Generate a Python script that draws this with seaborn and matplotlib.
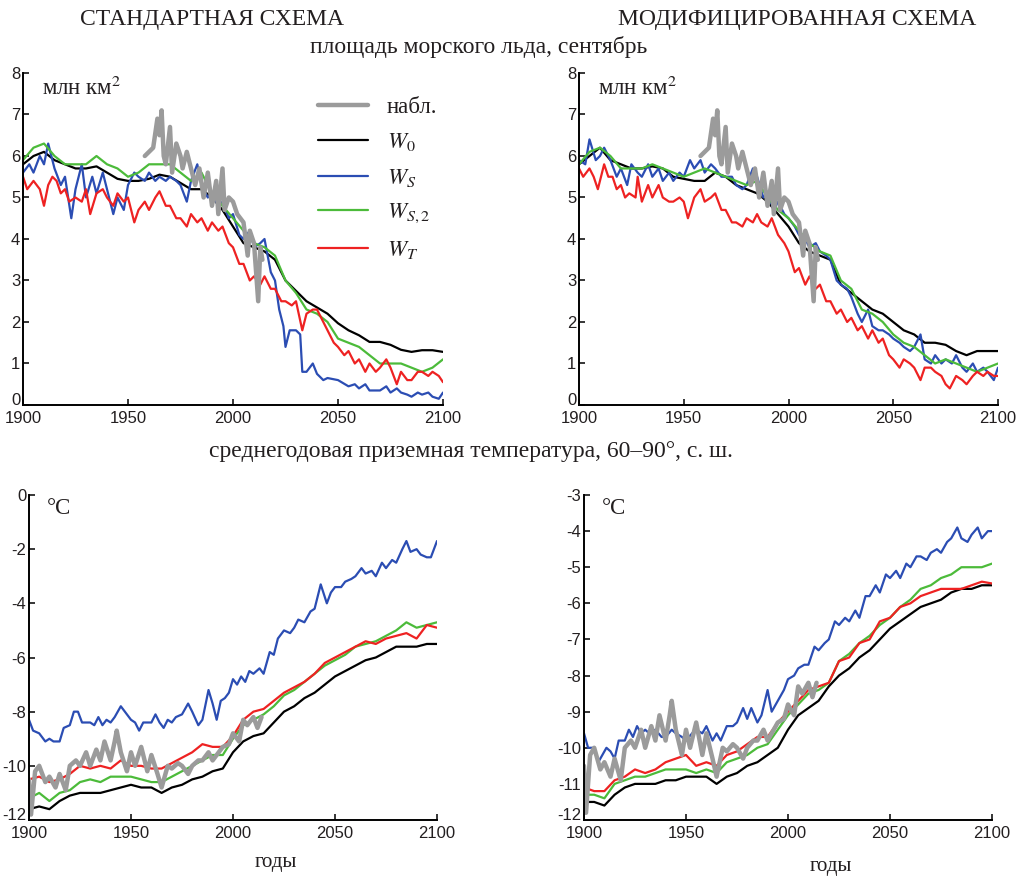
import numpy as np
import pandas as pd
import matplotlib
matplotlib.use("Agg")
import matplotlib.pyplot as plt
import matplotlib.transforms as mtransforms
import seaborn as sns

# ---------------- data ----------------
YEARS = list(range(1900, 2101, 5))

# September sea-ice area, standard scheme (mln km2)
ICE_STD_W0 = [5.8, 6.0, 6.1, 5.9, 5.8, 5.7, 5.7, 5.75, 5.6, 5.45, 5.4, 5.4, 5.45, 5.55, 5.5, 5.35, 5.2, 5.2, 5.0, 4.7,
              4.3, 3.9, 3.8, 3.7, 3.5, 3.0, 2.75, 2.5, 2.35, 2.2, 1.97, 1.8, 1.68, 1.52, 1.52, 1.45, 1.33, 1.28, 1.32, 1.32, 1.28]
ICE_STD_WS_YEARS = [1900, 1903, 1905, 1908, 1910, 1912, 1915, 1918, 1920, 1923, 1925, 1928, 1930, 1933, 1935, 1938,
                    1940, 1943, 1945, 1948, 1950, 1953, 1955, 1958, 1960, 1963, 1965, 1968, 1970, 1973, 1975, 1978,
                    1980, 1983, 1985, 1988, 1990, 1993, 1995, 1998, 2000, 2003, 2005, 2008, 2010, 2013, 2015, 2018,
                    2020, 2022, 2024, 2025, 2027, 2030, 2032, 2033, 2035, 2038, 2040, 2043, 2045, 2050, 2055, 2058,
                    2060, 2063, 2065, 2070, 2073, 2075, 2078, 2080, 2083, 2085, 2088, 2090, 2093, 2095, 2098, 2100]
ICE_STD_WS = [5.6, 5.8, 5.6, 6.0, 5.8, 6.3, 5.7, 5.3, 5.5, 4.5, 5.2, 5.8, 5.0, 5.5, 5.1, 5.6,
              5.2, 4.6, 5.0, 4.7, 5.3, 5.6, 5.5, 5.4, 5.6, 5.4, 5.5, 5.4, 5.5, 5.4, 5.3, 4.9,
              5.4, 5.8, 5.3, 5.0, 5.1, 4.8, 4.9, 4.5, 4.6, 4.1, 4.0, 4.2, 3.8, 3.9, 4.0, 3.2,
              3.0, 2.3, 1.9, 1.4, 1.8, 1.8, 1.7, 0.8, 0.8, 1.0, 0.75, 0.6, 0.65, 0.6, 0.45, 0.5,
              0.4, 0.5, 0.35, 0.35, 0.45, 0.3, 0.4, 0.3, 0.25, 0.2, 0.3, 0.25, 0.3, 0.2, 0.15, 0.3]
ICE_STD_WS2 = [5.9, 6.2, 6.3, 6.0, 5.8, 5.8, 5.8, 6.0, 5.8, 5.7, 5.5, 5.6, 5.8, 5.8, 5.8, 5.6, 5.4, 5.6, 5.1, 4.8,
               4.5, 4.2, 3.9, 3.8, 3.6, 3.0, 2.7, 2.3, 2.2, 2.0, 1.6, 1.5, 1.4, 1.2, 1.0, 1.0, 1.0, 0.9, 0.8, 0.9, 1.1]
ICE_STD_WT_YEARS = [1900, 1902, 1905, 1908, 1910, 1912, 1914, 1916, 1918, 1920, 1922, 1925, 1928, 1930, 1932, 1935,
                    1938, 1940, 1943, 1945, 1948, 1950, 1953, 1955, 1958, 1960, 1963, 1965, 1968, 1970, 1973, 1975,
                    1978, 1980, 1983, 1985, 1988, 1990, 1993, 1995, 1998, 2000, 2003, 2005, 2008, 2010, 2013, 2015,
                    2018, 2020, 2023, 2025, 2028, 2030, 2033, 2035, 2038, 2040, 2043, 2045, 2048, 2050, 2053, 2055,
                    2058, 2060, 2063, 2065, 2068, 2070, 2073, 2075, 2078, 2080, 2083, 2085, 2088, 2090, 2093, 2095,
                    2098, 2100]
ICE_STD_WT = [5.5, 5.2, 5.4, 5.2, 4.8, 5.3, 5.5, 5.4, 5.1, 5.2, 4.9, 5.0, 4.9, 5.2, 4.6, 5.1,
              5.2, 5.0, 4.8, 5.1, 4.9, 5.0, 4.4, 4.7, 4.9, 4.7, 5.0, 5.15, 4.8, 4.8, 4.5, 4.5,
              4.3, 4.6, 4.4, 4.5, 4.2, 4.4, 4.2, 4.3, 3.9, 3.8, 3.4, 3.4, 3.0, 3.1, 2.9, 3.1,
              2.8, 2.8, 2.5, 2.5, 2.4, 2.5, 1.8, 2.2, 2.3, 2.3, 2.0, 1.8, 1.5, 1.4, 1.2, 1.3,
              1.0, 1.1, 0.8, 1.0, 0.8, 0.9, 1.1, 0.9, 0.5, 0.8, 0.6, 0.6, 0.8, 0.8, 0.7, 0.8,
              0.7, 0.55]

# September sea-ice area, modified scheme
ICE_MOD_W0 = [5.8, 6.0, 6.2, 5.9, 5.8, 5.7, 5.7, 5.75, 5.7, 5.5, 5.45, 5.4, 5.4, 5.6, 5.5, 5.3, 5.2, 5.1, 4.9, 4.6,
              4.3, 3.9, 3.7, 3.6, 3.5, 2.9, 2.7, 2.5, 2.3, 2.2, 2.0, 1.8, 1.7, 1.5, 1.5, 1.45, 1.3, 1.2, 1.3, 1.3, 1.3]
ICE_MOD_WS_YEARS = [1900, 1903, 1905, 1908, 1910, 1912, 1915, 1918, 1920, 1923, 1925, 1928, 1930, 1933, 1935, 1938,
                    1940, 1943, 1945, 1948, 1950, 1953, 1955, 1958, 1960, 1963, 1965, 1968, 1970, 1973, 1975, 1978,
                    1980, 1983, 1985, 1988, 1990, 1993, 1995, 1998, 2000, 2003, 2005, 2008, 2010, 2013, 2015, 2018,
                    2020, 2023, 2025, 2028, 2030, 2033, 2035, 2038, 2040, 2043, 2045, 2048, 2050, 2053, 2055, 2058,
                    2060, 2063, 2065, 2068, 2070, 2073, 2075, 2078, 2080, 2083, 2085, 2088, 2090, 2093, 2095, 2098,
                    2100]
ICE_MOD_WS = [5.9, 5.8, 6.4, 5.9, 6.0, 6.2, 5.9, 5.5, 5.7, 5.3, 5.8, 5.6, 5.5, 5.8, 5.5, 5.7,
              5.4, 5.6, 5.4, 5.6, 5.5, 5.9, 5.7, 5.9, 5.6, 5.8, 5.7, 5.5, 5.5, 5.5, 5.3, 5.2,
              5.3, 5.7, 5.5, 5.0, 5.1, 4.7, 4.9, 4.6, 4.5, 4.3, 4.1, 4.0, 3.8, 3.9, 3.7, 3.6,
              3.5, 3.0, 2.9, 2.8, 2.6, 2.2, 2.0, 2.3, 1.9, 1.8, 1.8, 1.7, 1.6, 1.5, 1.4, 1.3,
              1.4, 1.7, 1.1, 1.0, 1.2, 1.0, 1.1, 1.0, 1.2, 0.9, 0.8, 1.0, 0.8, 0.9, 0.8, 0.6,
              0.9]
ICE_MOD_WS2 = [5.8, 6.1, 6.2, 6.0, 5.7, 5.7, 5.7, 5.8, 5.7, 5.6, 5.5, 5.6, 5.7, 5.6, 5.5, 5.4, 5.3, 5.4, 5.0, 4.7,
               4.5, 4.2, 3.9, 3.7, 3.6, 3.0, 2.8, 2.3, 2.2, 2.0, 1.7, 1.5, 1.4, 1.2, 1.0, 1.1, 1.0, 0.9, 0.8, 0.9, 1.0]
ICE_MOD_WT_YEARS = [1900, 1902, 1905, 1907, 1909, 1912, 1914, 1916, 1918, 1920, 1922, 1924, 1927, 1928, 1930, 1933,
                    1935, 1938, 1940, 1943, 1945, 1948, 1950, 1952, 1955, 1958, 1960, 1963, 1965, 1968, 1970, 1973,
                    1975, 1978, 1980, 1983, 1985, 1987, 1990, 1992, 1995, 1998, 2000, 2003, 2005, 2008, 2010, 2013,
                    2015, 2018, 2020, 2023, 2025, 2028, 2030, 2033, 2035, 2038, 2040, 2043, 2045, 2048, 2050, 2053,
                    2055, 2058, 2060, 2063, 2065, 2068, 2070, 2073, 2075, 2077, 2080, 2083, 2085, 2088, 2090, 2093,
                    2095, 2098, 2100]
ICE_MOD_WT = [5.7, 5.5, 5.7, 5.5, 5.2, 5.8, 5.5, 5.5, 5.2, 5.3, 5.0, 5.1, 5.0, 5.5, 4.9, 5.3,
              5.0, 5.3, 5.0, 4.9, 4.9, 5.0, 4.9, 4.5, 5.0, 5.2, 4.9, 5.0, 5.1, 4.7, 4.7, 4.4,
              4.4, 4.3, 4.5, 4.4, 4.6, 4.4, 4.3, 4.5, 4.1, 3.9, 3.7, 3.2, 3.3, 2.9, 3.1, 2.8,
              2.9, 2.5, 2.5, 2.2, 2.3, 2.0, 2.1, 1.8, 1.9, 1.6, 1.8, 1.5, 1.6, 1.2, 1.1, 0.9,
              1.1, 1.0, 0.9, 0.6, 0.9, 0.9, 0.8, 0.7, 0.5, 0.4, 0.7, 0.6, 0.5, 0.7, 0.8, 0.7,
              0.8, 0.7, 0.7]

# observed sea-ice area
OBS_ICE_YEARS = [1958, 1960, 1962, 1964, 1965, 1966, 1967, 1968, 1970, 1971, 1973, 1975, 1976, 1978, 1980, 1982, 1984,
                 1986, 1988, 1990, 1992, 1993, 1995, 1996, 1998, 2000, 2002, 2005, 2007, 2008, 2010, 2012, 2013, 2014]
OBS_ICE = [6.0, 6.1, 6.2, 6.9, 6.5, 7.1, 6.0, 5.8, 6.7, 5.6, 6.3, 6.0, 5.7, 6.1, 5.7, 5.3, 5.7,
           5.0, 5.6, 4.8, 5.4, 4.6, 5.7, 4.7, 5.0, 4.9, 4.6, 4.4, 3.6, 4.2, 3.9, 2.5, 3.8, 3.5]

# annual mean surface air temperature 60-90N, standard scheme (deg C)
T_STD_W0 = [-11.6, -11.5, -11.6, -11.3, -11.1, -11.0, -11.0, -11.0, -10.9, -10.8, -10.7, -10.8, -10.8, -11.0, -10.8,
            -10.7, -10.5, -10.4, -10.2, -10.1, -9.5, -9.1, -8.9, -8.8, -8.4, -8.0, -7.8, -7.5, -7.3, -7.0, -6.7, -6.5,
            -6.3, -6.1, -6.0, -5.8, -5.6, -5.6, -5.6, -5.5, -5.5]
T_STD_WS_YEARS = [1900, 1902, 1905, 1908, 1910, 1912, 1915, 1917, 1920, 1922, 1924, 1926, 1930, 1932, 1934, 1936,
                  1938, 1940, 1942, 1945, 1947, 1950, 1952, 1954, 1956, 1960, 1962, 1964, 1966, 1968, 1970, 1972,
                  1975, 1978, 1980, 1983, 1985, 1988, 1990, 1992, 1994, 1996, 1998, 2000, 2002, 2004, 2006, 2008,
                  2010, 2013, 2015, 2018, 2020, 2022, 2025, 2028, 2030, 2032, 2035, 2038, 2040, 2043, 2046, 2048,
                  2050, 2053, 2055, 2058, 2060, 2063, 2065, 2068, 2070, 2073, 2075, 2078, 2080, 2083, 2085, 2087,
                  2090, 2092, 2095, 2097, 2100]
T_STD_WS = [-8.3, -8.7, -8.8, -9.1, -9.0, -9.1, -9.1, -8.6, -8.5, -8.0, -8.0, -8.4, -8.4, -8.5, -8.2, -8.5,
            -8.3, -8.4, -8.2, -7.8, -8.0, -8.3, -8.4, -8.7, -8.4, -8.4, -8.1, -8.4, -8.6, -8.3, -8.4, -8.2,
            -8.1, -7.7, -8.0, -8.5, -8.3, -7.2, -7.7, -8.3, -7.6, -7.5, -7.3, -6.8, -7.0, -6.7, -6.9, -6.5,
            -6.6, -6.4, -6.6, -5.8, -5.9, -5.3, -5.0, -5.1, -4.9, -4.6, -4.7, -4.3, -4.2, -3.3, -4.0, -3.6,
            -3.4, -3.4, -3.2, -3.1, -3.0, -2.7, -2.9, -2.8, -3.0, -2.5, -2.7, -2.4, -2.5, -2.0, -1.7, -2.1,
            -2.0, -2.2, -2.3, -2.3, -1.7]
T_STD_WS2 = [-11.2, -11.0, -11.3, -11.0, -10.9, -10.6, -10.5, -10.6, -10.4, -10.4, -10.4, -10.5, -10.6, -10.6, -10.4,
             -10.2, -10.0, -9.8, -9.6, -9.6, -9.0, -8.5, -8.3, -8.1, -7.8, -7.4, -7.2, -6.9, -6.6, -6.3, -6.1, -5.9,
             -5.6, -5.5, -5.4, -5.2, -5.0, -4.7, -4.9, -4.8, -4.7]
T_STD_WT = [-10.5, -10.4, -10.6, -10.5, -10.3, -10.0, -10.1, -10.0, -10.1, -9.8, -10.0, -10.0, -10.1, -10.1, -9.9,
            -9.7, -9.5, -9.2, -9.3, -9.3, -8.9, -8.3, -8.0, -7.9, -7.6, -7.3, -7.1, -6.9, -6.6, -6.2, -6.0, -5.8,
            -5.6, -5.4, -5.5, -5.3, -5.2, -5.1, -5.3, -4.8, -4.9]

# modified scheme
T_MOD_W0 = [-11.5, -11.5, -11.6, -11.3, -11.1, -11.0, -11.0, -11.0, -10.9, -10.9, -10.8, -10.8, -10.8, -11.0, -10.8,
            -10.7, -10.5, -10.4, -10.2, -10.0, -9.5, -9.1, -8.9, -8.7, -8.3, -8.0, -7.8, -7.5, -7.3, -7.0, -6.7, -6.5,
            -6.3, -6.1, -6.0, -5.9, -5.7, -5.6, -5.6, -5.5, -5.5]
T_MOD_WS_YEARS = [1900, 1902, 1905, 1907, 1909, 1911, 1913, 1915, 1917, 1920, 1922, 1924, 1926, 1928, 1930, 1932,
                  1935, 1938, 1940, 1943, 1945, 1948, 1950, 1953, 1955, 1958, 1960, 1963, 1965, 1967, 1970, 1973,
                  1975, 1978, 1980, 1982, 1985, 1987, 1990, 1992, 1994, 1996, 1998, 2000, 2003, 2005, 2008, 2010,
                  2013, 2015, 2018, 2020, 2023, 2025, 2028, 2030, 2033, 2035, 2038, 2040, 2043, 2045, 2048, 2050,
                  2053, 2055, 2058, 2060, 2063, 2065, 2068, 2070, 2073, 2075, 2078, 2080, 2083, 2085, 2088, 2090,
                  2093, 2095, 2098, 2100]
T_MOD_WS = [-9.6, -10.0, -10.0, -10.4, -10.2, -10.0, -10.1, -10.3, -9.8, -9.8, -9.5, -9.7, -9.4, -9.6, -9.5, -9.6,
            -9.5, -9.7, -9.7, -9.5, -9.6, -9.7, -9.8, -9.6, -9.5, -9.6, -9.4, -9.8, -9.6, -9.8, -9.4, -9.4,
            -9.3, -8.9, -9.2, -8.9, -9.3, -9.1, -8.4, -9.0, -8.8, -8.6, -8.4, -8.1, -8.0, -7.8, -7.7, -7.7,
            -7.2, -7.3, -7.1, -7.0, -6.5, -6.6, -6.4, -6.5, -6.2, -6.4, -5.8, -5.8, -5.5, -5.7, -5.2, -5.3,
            -5.1, -5.3, -4.9, -5.0, -4.7, -4.7, -4.8, -4.6, -4.5, -4.6, -4.3, -4.2, -3.9, -4.2, -4.3, -4.1,
            -3.9, -4.2, -4.0, -4.0]
T_MOD_WS2 = [-11.3, -11.3, -11.4, -11.0, -10.9, -10.8, -10.8, -10.7, -10.6, -10.6, -10.6, -10.7, -10.6, -10.7, -10.4,
             -10.3, -10.2, -10.0, -9.9, -9.5, -9.1, -8.8, -8.5, -8.4, -8.2, -7.6, -7.4, -7.1, -6.9, -6.6, -6.4, -6.1,
             -5.9, -5.6, -5.5, -5.3, -5.2, -5.0, -5.0, -5.0, -4.9]
T_MOD_WT = [-11.1, -11.2, -11.2, -10.9, -10.8, -10.6, -10.7, -10.6, -10.4, -10.3, -10.2, -10.5, -10.4, -10.5, -10.2,
            -10.1, -9.9, -9.7, -9.7, -9.3, -9.0, -8.7, -8.4, -8.3, -8.2, -7.6, -7.5, -7.1, -7.0, -6.5, -6.4, -6.1,
            -6.0, -5.8, -5.7, -5.6, -5.6, -5.6, -5.5, -5.4, -5.45]

# observed temperature
OBS_T_YEARS = [1900, 1901, 1903, 1905, 1908, 1910, 1913, 1915, 1918, 1920, 1923, 1925, 1928, 1930, 1933, 1935, 1937,
               1940, 1942, 1943, 1945, 1948, 1950, 1952, 1955, 1958, 1960, 1963, 1965, 1968, 1970, 1973, 1975, 1978,
               1980, 1983, 1985, 1988, 1990, 1993, 1995, 1998, 2000, 2003, 2005, 2007, 2010, 2012, 2014]
OBS_T = [-10.5, -11.8, -10.2, -10.0, -10.6, -10.4, -10.8, -10.3, -10.9, -10.0, -9.8, -10.0, -9.5, -10.0, -9.4, -9.8,
         -9.1, -9.8, -9.1, -8.7, -9.5, -10.2, -9.5, -10.0, -9.3, -10.2, -9.6, -10.3, -10.8, -10.0, -10.1, -9.9, -10.0,
         -10.3, -10.0, -9.8, -9.8, -9.5, -9.8, -9.5, -9.3, -9.2, -8.8, -9.1, -8.3, -8.5, -8.2, -8.6, -8.2]

SERIES = ["W0", "WS", "WS2", "WT"]
LABELS = {"obs": "набл.", "W0": r"$W_0$", "WS": r"$W_S$", "WS2": r"$W_{S,2}$", "WT": r"$W_T$"}
COLORS = {"obs": "#9b9b9b", "W0": "#000000", "WS": "#2b4db3", "WS2": "#4cbb3a", "WT": "#ee2222"}
WIDTHS = {"obs": 3.2, "W0": 1.6, "WS": 1.6, "WS2": 1.6, "WT": 1.6}

XTICKS = [1900, 1950, 2000, 2050, 2100]

# ---------------- style ----------------
sns.set_theme(style="ticks")
plt.rcParams["font.family"] = ["Liberation Sans", "DejaVu Sans"]
plt.rcParams["mathtext.fontset"] = "stix"
plt.rcParams["axes.unicode_minus"] = False

TXT = "#231f20"
SERIF = ["Liberation Serif", "DejaVu Serif"]

fig = plt.figure(figsize=(10.25, 8.77), dpi=100)
W, H = 1025, 877


def add_axes(l, r, t, b):
    return fig.add_axes([l / W, 1 - b / H, (r - l) / W, (b - t) / H])


def frame(model_pairs, obs_years, obs_vals):
    parts = []
    for name, (yrs, vals) in zip(SERIES, model_pairs):
        parts.append(pd.DataFrame({"year": yrs, "value": vals, "series": name}))
    parts.append(pd.DataFrame({"year": obs_years, "value": obs_vals, "series": "obs"}))
    return pd.concat(parts, ignore_index=True)


def draw(ax, df, ylim, yticks, unit, legend=False):
    for name in SERIES + ["obs"]:
        sub = df[df["series"] == name]
        sns.lineplot(data=sub, x="year", y="value", ax=ax, color=COLORS[name],
                     linewidth=WIDTHS[name], label=LABELS[name], legend=False)
    ax.set_xlim(1900, 2100)
    ax.set_ylim(*ylim)
    ax.set_xticks(XTICKS)
    ax.set_yticks(yticks)
    ax.set_xlabel("")
    ax.set_ylabel("")
    sns.despine(ax=ax)
    for s in ("left", "bottom"):
        ax.spines[s].set_linewidth(1.4)
        ax.spines[s].set_color("black")
    ax.tick_params(direction="in", length=4, width=1.1, labelsize=12, colors="black",
                   labelcolor=TXT)
    ax.tick_params(axis="x", pad=4)
    ax.tick_params(axis="y", pad=2)
    # lift the lowest y label a little so it sits just above the first x label
    lift = mtransforms.ScaledTranslation(0, 4 / 72, fig.dpi_scale_trans)
    lab0 = ax.get_yticklabels()[0]
    lab0.set_transform(lab0.get_transform() + lift)
    ax.text(0.045, 0.99, unit, transform=ax.transAxes, ha="left", va="top",
            fontsize=16.5, family=SERIF, color=TXT)
    if legend:
        handles, labels = ax.get_legend_handles_labels()
        order = [labels.index(LABELS[k]) for k in ["obs"] + SERIES]
        leg = ax.legend([handles[i] for i in order], [labels[i] for i in order],
                        loc="upper left", bbox_to_anchor=(0.68, 0.955), frameon=False,
                        prop={"family": SERIF, "size": 16.5}, handlelength=2.2,
                        handletextpad=0.8, labelspacing=0.58, borderaxespad=0)
        for t in leg.get_texts():
            t.set_color(TXT)


ax1 = add_axes(23, 443, 73, 405)
ax2 = add_axes(579, 998, 73, 405)
ax3 = add_axes(29, 437, 495, 820)
ax4 = add_axes(584, 992, 495, 820)

draw(ax1, frame([(YEARS, ICE_STD_W0), (ICE_STD_WS_YEARS, ICE_STD_WS), (YEARS, ICE_STD_WS2),
                 (ICE_STD_WT_YEARS, ICE_STD_WT)], OBS_ICE_YEARS, OBS_ICE),
     (0, 8), range(0, 9), "млн км$^2$", legend=True)
draw(ax2, frame([(YEARS, ICE_MOD_W0), (ICE_MOD_WS_YEARS, ICE_MOD_WS), (YEARS, ICE_MOD_WS2),
                 (ICE_MOD_WT_YEARS, ICE_MOD_WT)], OBS_ICE_YEARS, OBS_ICE),
     (0, 8), range(0, 9), "млн км$^2$")
draw(ax3, frame([(YEARS, T_STD_W0), (T_STD_WS_YEARS, T_STD_WS), (YEARS, T_STD_WS2),
                 (YEARS, T_STD_WT)], OBS_T_YEARS, OBS_T),
     (-12, 0), range(-12, 1, 2), "°C")
draw(ax4, frame([(YEARS, T_MOD_W0), (T_MOD_WS_YEARS, T_MOD_WS), (YEARS, T_MOD_WS2),
                 (YEARS, T_MOD_WT)], OBS_T_YEARS, OBS_T),
     (-12, -3), range(-12, -2), "°C")

# headings
fig.text(212 / W, 1 - 19 / H, "СТАНДАРТНАЯ СХЕМА", ha="center", va="center",
         fontsize=17, family=SERIF, color=TXT)
fig.text(797 / W, 1 - 19 / H, "МОДИФИЦИРОВАННАЯ СХЕМА", ha="center", va="center",
         fontsize=17, family=SERIF, color=TXT)
fig.text(479 / W, 1 - 47 / H, "площадь морского льда, сентябрь", ha="center", va="center",
         fontsize=17, family=SERIF, color=TXT)
fig.text(471 / W, 1 - 452 / H, "среднегодовая приземная температура, 60–90°, с. ш.",
         ha="center", va="center", fontsize=17, family=SERIF, color=TXT)
fig.text(276 / W, 1 - 862 / H, "годы", ha="center", va="center", fontsize=15, family=SERIF, color=TXT)
fig.text(831 / W, 1 - 866 / H, "годы", ha="center", va="center", fontsize=15, family=SERIF, color=TXT)

fig.savefig("out.png", dpi=100)
